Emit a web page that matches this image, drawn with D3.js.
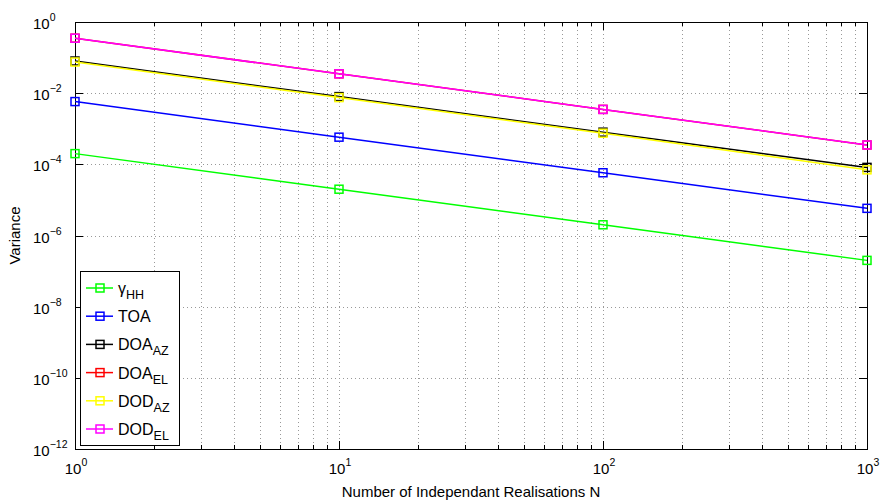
<!DOCTYPE html>
<html>
<head>
<meta charset="utf-8">
<script src="https://cdn.jsdelivr.net/npm/d3@7"></script>
<style>
body { margin: 0; background: #fff; }
text { font-family: "Liberation Sans", Arial, sans-serif; }
</style>
</head>
<body>
<svg id="chart" width="880" height="502"></svg>
<script>
// realisation counts on the x axis
var realisations = [1, 10, 100, 1000];

// variance of each estimator
var gammaHH = [2e-4, 2e-5, 2e-6, 2e-7];
var toa     = [5.8e-3, 5.8e-4, 5.8e-5, 5.8e-6];
var doaAz   = [8e-2, 8e-3, 8e-4, 8.2e-5];
var doaEl   = [3.5e-1, 3.5e-2, 3.5e-3, 3.5e-4];
var dodAz   = [7.5e-2, 7.5e-3, 7.5e-4, 7e-5];
var dodEl   = [3.5e-1, 3.5e-2, 3.5e-3, 3.5e-4];

var seriesNames = [["\u03b3", "HH"], ["TOA", ""], ["DOA", "AZ"], ["DOA", "EL"], ["DOD", "AZ"], ["DOD", "EL"]];
var seriesValues = [gammaHH, toa, doaAz, doaEl, dodAz, dodEl];
var seriesColors = ["#00ff00", "#0000ff", "#000000", "#ff0000", "#ffff00", "#ff00ff"];

var xTickExps = [0, 1, 2, 3];
var yTickExps = [0, -2, -4, -6, -8, -10, -12];

var mLeft = 75, mRight = 867, mTop = 22, mBottom = 449;

var svg = d3.select("#chart");

var x = d3.scaleLog().domain([1, 1000]).range([mLeft, mRight]);
var y = d3.scaleLog().domain([1e-12, 1]).range([mBottom, mTop]);

// grid lines
var grid = svg.append("g").attr("stroke", "#999").attr("stroke-dasharray", "1,3").attr("stroke-width", 1);
var minorX = [];
for (var d = 0; d < 3; d++) {
    for (var k = 1; k <= 9; k++) {
        var v = k * Math.pow(10, d);
        if (v > 1) minorX.push(v);
    }
}
grid.selectAll("line.vx").data(minorX).enter()
    .append("line")
    .attr("x1", function (v) { return Math.round(x(v)) + 0.5; })
    .attr("x2", function (v) { return Math.round(x(v)) + 0.5; })
    .attr("y1", mTop).attr("y2", mBottom);
grid.selectAll("line.hy").data(yTickExps.filter(function (e) { return e < 0 && e > -12; })).enter()
    .append("line")
    .attr("y1", function (e) { return Math.round(y(Math.pow(10, e))) + 0.5; })
    .attr("y2", function (e) { return Math.round(y(Math.pow(10, e))) + 0.5; })
    .attr("x1", mLeft).attr("x2", mRight);

// axes box
svg.append("rect")
    .attr("x", mLeft + 0.5).attr("y", mTop + 0.5)
    .attr("width", mRight - mLeft).attr("height", mBottom - mTop)
    .attr("fill", "none").attr("stroke", "#000").attr("stroke-width", 1);

// ticks
var tickG = svg.append("g").attr("stroke", "#000").attr("stroke-width", 1);
minorX.concat([1, 1000]).forEach(function (v) {
    var major = Math.abs(Math.log10(v) - Math.round(Math.log10(v))) < 1e-9;
    var len = major ? 8 : 4;
    var px = Math.round(x(v)) + 0.5;
    tickG.append("line").attr("x1", px).attr("x2", px).attr("y1", mBottom).attr("y2", mBottom - len);
    tickG.append("line").attr("x1", px).attr("x2", px).attr("y1", mTop).attr("y2", mTop + len);
});
yTickExps.forEach(function (e) {
    var py = Math.round(y(Math.pow(10, e))) + 0.5;
    tickG.append("line").attr("x1", mLeft).attr("x2", mLeft + 8).attr("y1", py).attr("y2", py);
    tickG.append("line").attr("x1", mRight).attr("x2", mRight - 8).attr("y1", py).attr("y2", py);
});

// tick labels
function powLabel(g, px, py, exp, anchor) {
    var t = g.append("text").attr("x", px).attr("y", py).attr("font-size", 15).attr("fill", "#000")
        .attr("text-anchor", anchor);
    t.append("tspan").text("10");
    t.append("tspan").attr("dy", -8).attr("font-size", 10.5).text(exp < 0 ? "\u2212" + (-exp) : exp);
}
var labels = svg.append("g");
yTickExps.forEach(function (e) {
    powLabel(labels, 33, y(Math.pow(10, e)) + 7, e, "start");
});
xTickExps.forEach(function (e) {
    powLabel(labels, x(Math.pow(10, e)) + 1, 474, e, "middle");
});

svg.append("text").attr("x", (mLeft + mRight) / 2).attr("y", 497).attr("text-anchor", "middle")
    .attr("font-size", 15).text("Number of Independant Realisations N");
svg.append("text").attr("transform", "translate(20," + (mTop + mBottom) / 2 + ") rotate(-90)")
    .attr("text-anchor", "middle").attr("font-size", 15).text("Variance");

// series
var line = d3.line().x(function (d) { return x(d[0]); }).y(function (d) { return y(d[1]); });
seriesValues.forEach(function (vals, i) {
    var pts = realisations.map(function (n, j) { return [n, vals[j]]; });
    var g = svg.append("g");
    g.append("path").attr("d", line(pts)).attr("fill", "none")
        .attr("stroke", seriesColors[i]).attr("stroke-width", 1.5);
    g.selectAll("rect").data(pts).enter().append("rect")
        .attr("x", function (d) { return x(d[0]) - 4; })
        .attr("y", function (d) { return y(d[1]) - 4; })
        .attr("width", 8).attr("height", 8)
        .attr("fill", "none").attr("stroke", seriesColors[i]).attr("stroke-width", 1.5);
});

// legend
var lg = svg.append("g");
lg.append("rect").attr("x", 80.5).attr("y", 271.5).attr("width", 99).attr("height", 174)
    .attr("fill", "#fff").attr("stroke", "#000").attr("stroke-width", 1);
seriesNames.forEach(function (nm, i) {
    var ly = 288 + i * 28.2;
    lg.append("line").attr("x1", 86).attr("x2", 113).attr("y1", ly).attr("y2", ly)
        .attr("stroke", seriesColors[i]).attr("stroke-width", 1.5);
    lg.append("rect").attr("x", 96).attr("y", ly - 4).attr("width", 8).attr("height", 8)
        .attr("fill", "none").attr("stroke", seriesColors[i]).attr("stroke-width", 1.5);
    var t = lg.append("text").attr("x", 118).attr("y", ly + 6).attr("font-size", 16);
    t.append("tspan").text(nm[0]);
    if (nm[1]) t.append("tspan").attr("dy", 5).attr("font-size", 12.5).text(nm[1]);
});
</script>
</body>
</html>
